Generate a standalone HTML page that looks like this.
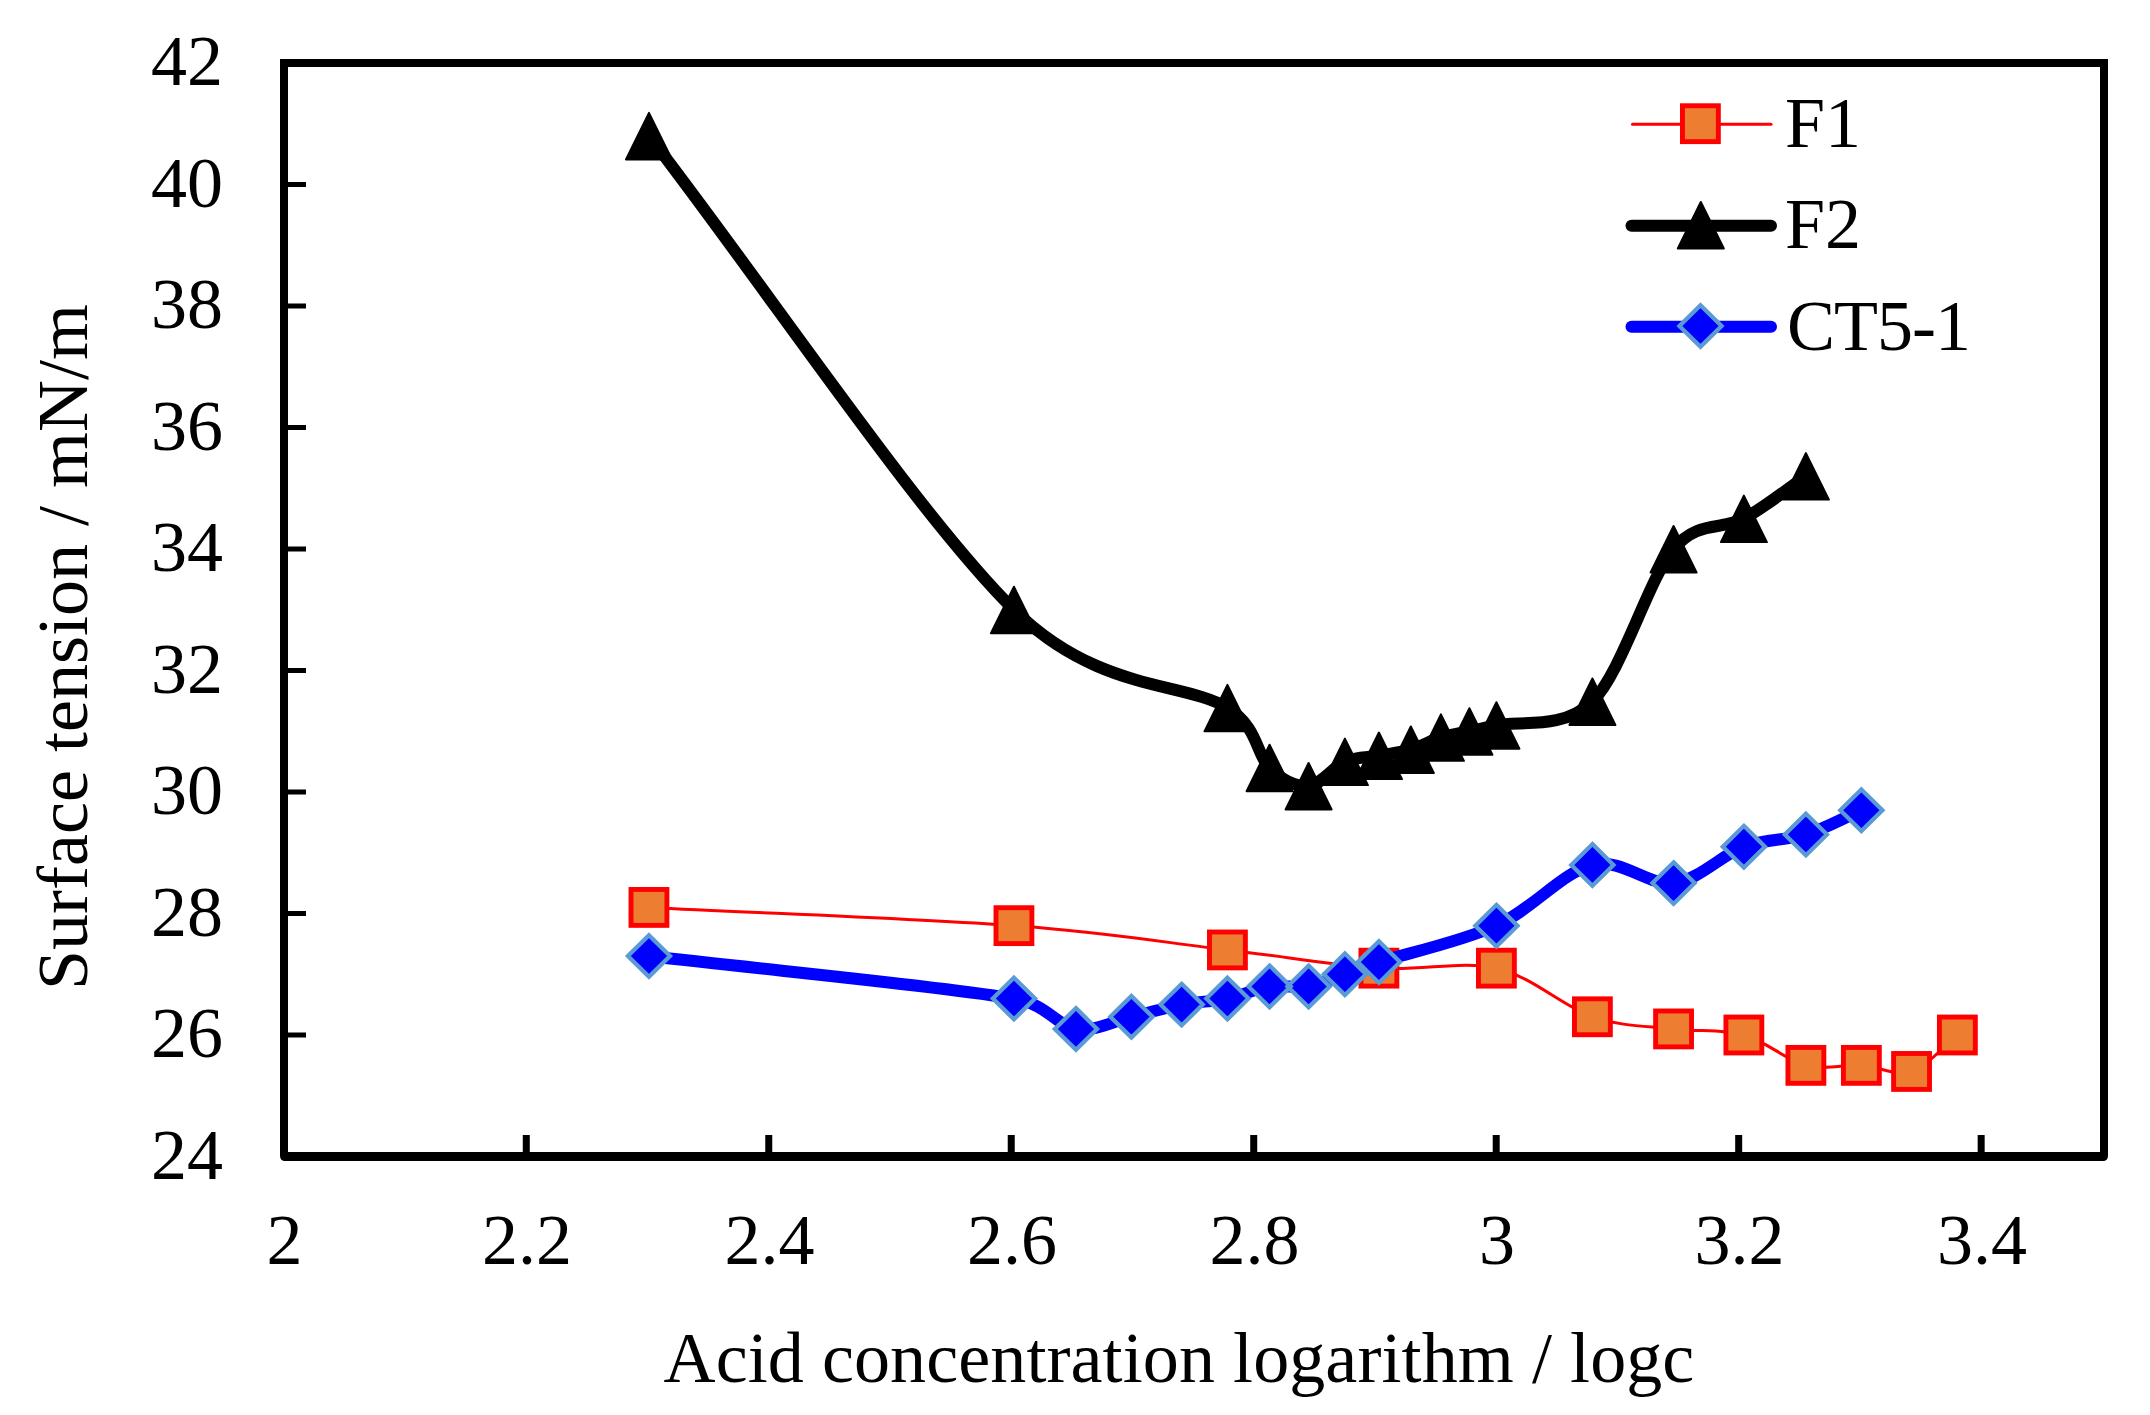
<!DOCTYPE html>
<html lang="en"><head><meta charset="utf-8"><title>Surface tension vs acid concentration logarithm</title>
<style>html,body{margin:0;padding:0;background:#fff}body{width:2150px;height:1415px;overflow:hidden}svg{display:block}text{font-family:"Liberation Serif","Times New Roman",serif;font-size:72px;fill:#000}</style></head><body>
<svg width="2150" height="1415" viewBox="0 0 2150 1415">
<rect width="2150" height="1415" fill="#fff"/>
<g id="frame" fill="none" stroke="#000">
<path d="M284 1156V63H2104V1156" stroke-width="8" stroke-linejoin="miter"/>
<path d="M284.6 1156.5H2103.4" stroke-width="9" stroke-linecap="round"/>
<path d="M526.28 1153V1135M768.76 1153V1135M1011.24 1153V1135M1253.72 1153V1135M1496.20 1153V1135M1738.68 1153V1135M1981.16 1153V1135" stroke-width="7"/>
<path d="M287 1035.05H306M287 913.55H306M287 792.05H306M287 670.55H306M287 549.05H306M287 427.55H306M287 306.05H306M287 184.55H306" stroke-width="5"/>
</g>
<g id="ylabels" text-anchor="end">
<text x="223" y="1178.5">24</text>
<text x="223" y="1057.0">26</text>
<text x="223" y="935.5">28</text>
<text x="223" y="814.0">30</text>
<text x="223" y="692.5">32</text>
<text x="223" y="571.0">34</text>
<text x="223" y="449.5">36</text>
<text x="223" y="328.0">38</text>
<text x="223" y="206.5">40</text>
<text x="223" y="85.0">42</text>
</g>
<g id="xlabels" text-anchor="middle">
<text x="284.6" y="1264">2</text>
<text x="527.1" y="1264">2.2</text>
<text x="769.6" y="1264">2.4</text>
<text x="1012.0" y="1264">2.6</text>
<text x="1254.5" y="1264">2.8</text>
<text x="1497.0" y="1264">3</text>
<text x="1739.5" y="1264">3.2</text>
<text x="1982.0" y="1264">3.4</text>
</g>
<text x="1179" y="1382" text-anchor="middle" letter-spacing="0.09">Acid concentration logarithm / logc</text>
<text transform="translate(87 647) rotate(-90)" text-anchor="middle">Surface tension / mN/m</text>
<g id="F1"><path d="M648.97 907.42 C770.63 913.50 917.53 918.56 1013.94 925.65 C1110.35 932.74 1166.60 942.86 1227.43 949.95 C1288.26 957.04 1334.08 965.14 1378.91 968.17 C1423.73 971.21 1460.82 960.07 1496.40 968.17 C1531.98 976.27 1562.87 1006.65 1592.40 1016.78 C1621.93 1026.90 1648.32 1025.89 1673.57 1028.92 C1698.81 1031.96 1721.82 1028.92 1743.88 1035.00 C1765.93 1041.08 1786.31 1060.31 1805.89 1065.38 C1825.47 1070.44 1843.76 1064.36 1861.37 1065.38 C1878.98 1066.39 1895.55 1076.51 1911.55 1071.45 C1927.55 1066.39 1942.10 1047.15 1957.37 1035.00" fill="none" stroke="#f00" stroke-width="3" stroke-linecap="round" stroke-linejoin="round"/>
<g fill="#ed7d31" stroke="#f00" stroke-width="4.9" stroke-linejoin="miter"><rect x="631.02" y="889.47" width="35.9" height="35.9"/><rect x="995.99" y="907.70" width="35.9" height="35.9"/><rect x="1209.48" y="932.00" width="35.9" height="35.9"/><rect x="1360.96" y="950.22" width="35.9" height="35.9"/><rect x="1478.45" y="950.22" width="35.9" height="35.9"/><rect x="1574.45" y="998.83" width="35.9" height="35.9"/><rect x="1655.62" y="1010.97" width="35.9" height="35.9"/><rect x="1725.93" y="1017.05" width="35.9" height="35.9"/><rect x="1787.94" y="1047.42" width="35.9" height="35.9"/><rect x="1843.42" y="1047.42" width="35.9" height="35.9"/><rect x="1893.60" y="1053.50" width="35.9" height="35.9"/><rect x="1939.42" y="1017.05" width="35.9" height="35.9"/></g></g>
<g id="F2"><path d="M648.97 135.90 C770.63 293.85 917.53 514.42 1013.94 609.75 C1097.48 692.35 1184.82 681.54 1227.43 707.86 C1258.56 727.10 1256.05 754.69 1269.58 767.70 C1283.10 780.71 1296.04 786.94 1308.60 785.92 C1321.15 784.91 1333.21 766.69 1344.92 761.62 C1356.64 756.56 1367.92 757.57 1378.91 755.55 C1389.89 753.52 1400.49 752.51 1410.83 749.48 C1421.16 746.44 1431.16 740.36 1440.92 737.33 C1450.68 734.29 1460.15 733.28 1469.39 731.25 C1478.64 729.22 1482.95 728.43 1496.40 725.17 C1516.90 720.21 1562.87 730.85 1592.40 701.48 C1621.93 672.12 1648.32 579.48 1673.57 549.00 C1698.00 519.51 1721.82 530.78 1743.88 518.62 C1765.93 506.47 1785.22 490.27 1805.89 476.10" fill="none" stroke="#000" stroke-width="12" stroke-linecap="round" stroke-linejoin="round"/>
<path d="M648.97 112.90L671.97 159.40L625.97 159.40ZM1013.94 586.75L1036.94 633.25L990.94 633.25ZM1227.43 684.86L1250.43 731.36L1204.43 731.36ZM1269.58 744.70L1292.58 791.20L1246.58 791.20ZM1308.60 762.92L1331.60 809.42L1285.60 809.42ZM1344.92 738.62L1367.92 785.12L1321.92 785.12ZM1378.91 732.55L1401.91 779.05L1355.91 779.05ZM1410.83 726.48L1433.83 772.98L1387.83 772.98ZM1440.92 714.33L1463.92 760.83L1417.92 760.83ZM1469.39 708.25L1492.39 754.75L1446.39 754.75ZM1496.40 702.17L1519.40 748.67L1473.40 748.67ZM1592.40 678.48L1615.40 724.98L1569.40 724.98ZM1673.57 526.00L1696.57 572.50L1650.57 572.50ZM1743.88 495.62L1766.88 542.12L1720.88 542.12ZM1805.89 453.10L1828.89 499.60L1782.89 499.60Z" fill="#000" stroke="#000" stroke-width="2" stroke-linejoin="round"/></g>
<g id="CT5-1"><path d="M648.97 956.02 C770.63 970.20 942.77 986.40 1013.94 998.55 C1047.97 1004.36 1056.37 1025.89 1075.95 1028.92 C1095.54 1031.96 1113.82 1020.83 1131.43 1016.78 C1149.04 1012.73 1165.62 1007.66 1181.62 1004.62 C1197.62 1001.59 1212.77 1001.59 1227.43 998.55 C1242.09 995.51 1256.05 988.43 1269.58 986.40 C1283.10 984.38 1296.04 988.43 1308.60 986.40 C1321.15 984.38 1333.21 978.30 1344.92 974.25 C1356.64 970.20 1361.72 967.61 1378.91 962.10 C1404.15 954.00 1460.82 941.85 1496.40 925.65 C1531.98 909.45 1562.87 871.99 1592.40 864.90 C1621.93 857.81 1648.32 886.16 1673.57 883.12 C1698.81 880.09 1721.82 854.77 1743.88 846.67 C1765.93 838.57 1786.31 840.60 1805.89 834.52 C1825.47 828.45 1842.88 818.33 1861.37 810.23" fill="none" stroke="#00f" stroke-width="12" stroke-linecap="round" stroke-linejoin="round"/>
<path d="M648.97 935.23L670.07 956.02L648.97 976.82L627.87 956.02ZM1013.94 977.75L1035.04 998.55L1013.94 1019.35L992.84 998.55ZM1075.95 1008.12L1097.05 1028.92L1075.95 1049.72L1054.85 1028.92ZM1131.43 995.98L1152.53 1016.78L1131.43 1037.58L1110.33 1016.78ZM1181.62 983.83L1202.72 1004.62L1181.62 1025.42L1160.52 1004.62ZM1227.43 977.75L1248.53 998.55L1227.43 1019.35L1206.33 998.55ZM1269.58 965.60L1290.68 986.40L1269.58 1007.20L1248.48 986.40ZM1308.60 965.60L1329.70 986.40L1308.60 1007.20L1287.50 986.40ZM1344.92 953.45L1366.02 974.25L1344.92 995.05L1323.82 974.25ZM1378.91 941.30L1400.01 962.10L1378.91 982.90L1357.81 962.10ZM1496.40 904.85L1517.50 925.65L1496.40 946.45L1475.30 925.65ZM1592.40 844.10L1613.50 864.90L1592.40 885.70L1571.30 864.90ZM1673.57 862.33L1694.67 883.12L1673.57 903.92L1652.47 883.12ZM1743.88 825.87L1764.98 846.67L1743.88 867.47L1722.78 846.67ZM1805.89 813.73L1826.99 834.52L1805.89 855.32L1784.79 834.52ZM1861.37 789.43L1882.47 810.23L1861.37 831.02L1840.27 810.23Z" fill="#00f" stroke="#5b9bd5" stroke-width="4.2" stroke-linejoin="miter"/></g>
<g id="legend">
<path d="M1632.5 124.3H1771" stroke="#f00" stroke-width="3" stroke-linecap="round"/>
<g fill="#ed7d31" stroke="#f00" stroke-width="4.9" stroke-linejoin="miter"><rect x="1682.45" y="105.75" width="35.9" height="35.9"/></g>
<path d="M1631.5 225.8H1771" stroke="#000" stroke-width="12" stroke-linecap="round"/>
<path d="M1700.80 202.00L1723.80 248.50L1677.80 248.50Z" fill="#000" stroke="#000" stroke-width="2" stroke-linejoin="round"/>
<path d="M1631.5 326.8H1771" stroke="#00f" stroke-width="12" stroke-linecap="round"/>
<path d="M1700.50 305.20L1721.60 326.00L1700.50 346.80L1679.40 326.00Z" fill="#00f" stroke="#5b9bd5" stroke-width="4.2" stroke-linejoin="miter"/>
<text x="1785" y="147">F1</text><text x="1785" y="248">F2</text><text x="1787" y="350" letter-spacing="-1">CT5-1</text>
</g>
</svg></body></html>
